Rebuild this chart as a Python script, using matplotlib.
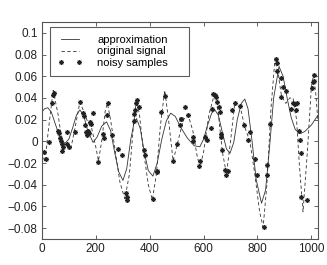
import matplotlib.pyplot as plt
import numpy as np

plt.rcParams['font.family'] = ['Liberation Sans', 'DejaVu Sans']

# original signal (dashed)
orig_x = [0, 11, 25, 42, 60, 79, 95, 108, 125, 141, 155, 170, 185, 200, 210, 222, 235, 243,
          255, 270, 290, 308, 325, 340, 351, 362, 375, 395, 410, 425, 440, 456, 470, 487,
          505, 525, 543, 560, 575, 586, 600, 620, 642, 655, 670, 685, 700, 716, 735, 753,
          772, 790, 808, 821, 835, 850, 865, 878, 889, 905, 920, 932, 945, 955, 969, 985,
          1000, 1008, 1016, 1024]
orig_y = [-0.010, -0.019, 0.012, 0.047, 0.025, -0.007, -0.003, -0.006, 0.015, 0.036, 0.028,
          0.018, 0.012, -0.005, -0.018, 0.000, 0.028, 0.035, 0.020, -0.005, -0.038, -0.053,
          -0.030, 0.015, 0.038, 0.025, -0.005, -0.040, -0.054, -0.030, 0.015, 0.047, 0.020,
          -0.018, 0.000, 0.020, 0.024, 0.010, -0.012, -0.024, -0.010, 0.025, 0.045, 0.025,
          -0.010, -0.030, 0.000, 0.036, 0.033, 0.013, 0.000, -0.030, -0.065, -0.079, -0.040,
          0.030, 0.076, 0.060, 0.042, 0.035, 0.040, 0.040, 0.020, -0.020, -0.065, -0.010,
          0.050, 0.061, 0.045, 0.020]

# smoothed approximation (solid)
approx_x = [0, 10, 22, 35, 50, 65, 85, 100, 115, 128, 141, 155, 170, 190, 205, 222, 240,
            255, 270, 285, 301, 315, 330, 342, 351, 365, 380, 395, 412, 428, 445, 462, 478,
            495, 515, 540, 565, 586, 600, 615, 630, 642, 655, 670, 685, 698, 712, 725, 740,
            753, 765, 780, 795, 815, 830, 845, 860, 880, 895, 910, 925, 940, 957, 975, 1000,
            1024]
approx_y = [0.027, 0.030, 0.031, 0.027, 0.016, 0.005, -0.002, 0.002, 0.013, 0.024, 0.029,
            0.024, 0.010, -0.001, 0.004, 0.014, 0.018, 0.010, -0.010, -0.028, -0.036, -0.025,
            0.002, 0.017, 0.021, 0.012, -0.010, -0.027, -0.032, -0.020, 0.002, 0.019, 0.026,
            0.023, 0.013, 0.003, -0.004, -0.005, 0.002, 0.015, 0.026, 0.029, 0.024, 0.008,
            -0.007, -0.011, -0.001, 0.020, 0.035, 0.039, 0.030, 0.000, -0.035, -0.057, -0.045,
            -0.005, 0.040, 0.069, 0.060, 0.040, 0.022, 0.011, 0.007, 0.009, 0.015, 0.024]

# noisy samples (asterisks)
noisy_x = [7, 15, 27, 36, 40, 45, 61, 63, 67, 70, 73, 77, 73, 92, 94, 101, 122, 143, 151,
           155, 160, 163, 166, 172, 178, 181, 190, 175, 209, 227, 230, 240, 244, 262, 283,
           296, 314, 316, 315, 343, 341, 345, 349, 354, 361, 380, 381, 411, 426, 428, 442,
           456, 485, 503, 512, 516, 518, 530, 543, 561, 562, 586, 584, 605, 613, 626, 632,
           636, 641, 646, 650, 658, 660, 663, 665, 670, 679, 683, 691, 707, 716, 735, 750,
           765, 772, 790, 799, 824, 834, 836, 846, 867, 871, 873, 886, 896, 904, 889, 923,
           932, 938, 945, 943, 955, 957, 960, 963, 982, 1003, 1006, 1010, 1008]
noisy_y = [-0.010, -0.016, -0.001, 0.035, 0.043, 0.045, 0.010, 0.008, 0.003, 0.000, -0.002,
           -0.005, -0.009, 0.009, -0.002, -0.005, 0.009, 0.036, 0.026, 0.023, 0.015, 0.009,
           0.006, 0.010, 0.018, 0.016, 0.026, 0.008, -0.019, 0.007, 0.003, 0.024, 0.035,
           0.006, -0.007, -0.013, -0.048, -0.051, -0.054, 0.019, 0.025, 0.029, 0.035, 0.038,
           0.032, -0.008, -0.013, -0.053, -0.028, -0.027, 0.027, 0.042, -0.018, -0.002,
           0.015, 0.021, 0.021, 0.032, 0.024, 0.004, 0.000, -0.018, -0.023, 0.004, 0.001,
           0.012, 0.030, 0.044, 0.043, 0.041, 0.036, 0.032, 0.027, 0.007, 0.004, -0.008,
           -0.026, -0.031, -0.027, 0.029, 0.035, 0.033, 0.015, 0.001, 0.009, -0.016, -0.031,
           -0.079, -0.031, -0.022, 0.016, 0.076, 0.072, 0.065, 0.058, 0.050, 0.046, 0.041,
           0.030, 0.035, 0.034, 0.035, 0.029, 0.010, 0.001, -0.011, -0.051, -0.054, 0.049,
           0.055, 0.061, 0.056]

fig = plt.figure(figsize=(3.27, 2.65), dpi=100)
ax = fig.add_axes([0.128, 0.098, 0.844, 0.819])

ax.plot(approx_x, approx_y, '-', color='#333333', lw=0.6, label='approximation')
ax.plot(orig_x, orig_y, '--', color='#333333', lw=0.6, dashes=(4, 3), label='original signal')
ax.plot(noisy_x, noisy_y, linestyle='none', marker=(8, 2, 0), color='#222222',
        ms=3.5, mew=0.7, label='noisy samples')

ax.set_xlim(0, 1024)
ax.set_ylim(-0.09, 0.11)
ax.set_xticks(np.arange(0, 1001, 200))
ax.set_yticks(np.arange(-0.08, 0.101, 0.02))
ax.set_yticklabels(['\u22120.08', '\u22120.06', '\u22120.04', '\u22120.02', '0',
                    '0.02', '0.04', '0.06', '0.08', '0.1'])
ax.tick_params(direction='in', top=True, right=True, length=3, width=0.5,
               labelsize=8.5, colors='#222222', pad=3)
for s in ax.spines.values():
    s.set_linewidth(0.8)
    s.set_color('#555555')

# legend box stretched to the reference's width
leg = ax.legend(loc='upper left', bbox_to_anchor=(0.029, 0.742, 0.504, 0.235),
                mode='expand', fontsize=8, numpoints=2, handlelength=2.2,
                frameon=True, fancybox=False, borderpad=0.7, labelspacing=0.15,
                handletextpad=1.35, borderaxespad=0)
leg.get_frame().set_edgecolor('#333333')
leg.get_frame().set_linewidth(0.8)

fig.savefig('out.png', dpi=100)
